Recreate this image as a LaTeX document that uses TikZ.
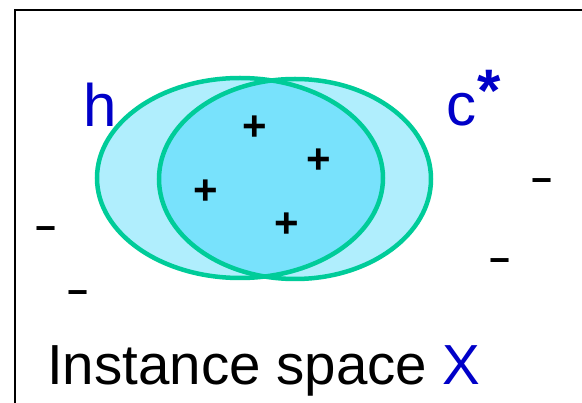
\documentclass[tikz,border=0pt]{standalone}
\usepackage{fontspec}
\setmainfont{Liberation Sans}
\definecolor{setE}{HTML}{00CC99}
\definecolor{setF}{HTML}{B0EEFD}
\definecolor{capF}{HTML}{78E2FC}
\definecolor{lblT}{HTML}{0000C8}
\begin{document}
\begin{tikzpicture}[
  x=1pt, y=-1pt,
  setline/.style={draw=setE, line width=4.5pt},
  lbl/.style={text=lblT, anchor=base west, inner sep=0pt,
              font=\fontsize{60}{60}\selectfont},
  posmark/.style={inner sep=0pt, font=\fontsize{42}{42}\selectfont\bfseries},
  negmark/.style={inner sep=0pt, anchor=base, yshift=-13.5pt,
              font=\fontsize{36}{36}\selectfont\bfseries},
]
\useasboundingbox (0,0) rectangle (582,403);
\fill[white] (0,0) rectangle (582,403);

% instance space frame (open at right and bottom)
\draw[black, line width=2pt] (15,403) -- (15,10) -- (582,10);

% hypothesis h and target c* (fills first, overlap darker)
\fill[setF] (240,178) ellipse [x radius=143pt, y radius=100pt];
\fill[setF] (295,179) ellipse [x radius=136pt, y radius=100pt];
\begin{scope}
  \clip (240,178) ellipse [x radius=143pt, y radius=100pt];
  \fill[capF] (295,179) ellipse [x radius=136pt, y radius=100pt];
\end{scope}
\draw[setline] (240,178) ellipse [x radius=143pt, y radius=100pt];
\draw[setline] (295,179) ellipse [x radius=136pt, y radius=100pt];

% set labels
\node[lbl] (hLbl) at (83,127) {h};
\node[lbl] (cLbl) at (446,126)
  {c\kern1pt{\fontsize{60}{60}\selectfont\raisebox{14pt}{\bfseries *}}};

% positive examples
\node[posmark] (p1) at (255,128) {+};
\node[posmark] (p2) at (319,161) {+};
\node[posmark] (p3) at (206,192) {+};
\node[posmark] (p4) at (287,225) {+};

% negative examples
\node[negmark] (n1) at (542,179) {−};
\node[negmark] (n2) at (46,227) {−};
\node[negmark] (n3) at (500,259) {−};
\node[negmark] (n4) at (78,291) {−};

% caption
\node[anchor=base west, inner sep=0pt, font=\fontsize{56.5}{56.5}\selectfont]
  (space) at (47,385) {Instance space \textcolor{lblT}{X}};
\end{tikzpicture}
\end{document}
